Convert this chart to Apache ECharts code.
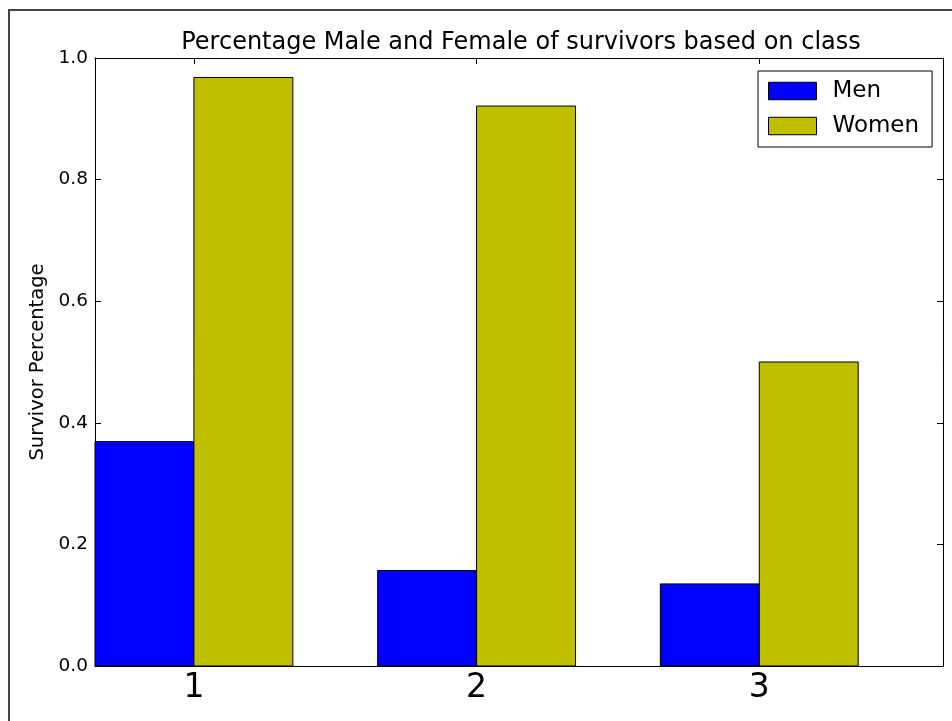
<!DOCTYPE html>
<html>
<head>
<meta charset="utf-8">
<script src="https://cdn.jsdelivr.net/npm/echarts@6/dist/echarts.min.js"></script>
<style>
html,body{margin:0;padding:0;background:#fff;}
#main{width:952px;height:721px;}
</style>
</head>
<body>
<div id="main"></div>
<script>
// ---- data ----
const categories = ['1', '2', '3'];
const menValues = [0.369, 0.157, 0.135];
const womenValues = [0.968, 0.921, 0.5];
const yTicks = [0, 0.2, 0.4, 0.6, 0.8, 1.0];
const seriesNames = ['Men', 'Women'];

// ---- layout constants ----
const BAR_W = 0.35;
const FONT = 'DejaVu Sans';
const tickPositions = categories.map((c, i) => i + BAR_W);

function barRenderer(offset) {
  return function (params, api) {
    const x0 = api.value(0) + offset;
    const v = api.value(1);
    const pTop = api.coord([x0, v]);
    const pBot = api.coord([x0 + BAR_W, 0]);
    return {
      type: 'rect',
      shape: { x: pTop[0], y: pTop[1], width: pBot[0] - pTop[0], height: pBot[1] - pTop[1] },
      style: { fill: api.visual('color'), stroke: '#000', lineWidth: 1 }
    };
  };
}

const chart = echarts.init(document.getElementById('main'), null, { renderer: 'canvas' });
const axisLineStyle = { color: '#000', width: 1 };
const option = {
  animation: false,
  backgroundColor: '#fff',
  textStyle: { fontFamily: FONT },
  title: {
    text: 'Percentage Male and Female of survivors based on class',
    left: 516, textAlign: 'center', top: 26,
    textStyle: { fontFamily: FONT, fontSize: 24, fontWeight: 'normal', color: '#000' }
  },
  legend: {
    data: seriesNames,
    orient: 'vertical', align: 'left',
    left: 758, top: 71,
    icon: 'rect', itemWidth: 48, itemHeight: 17.5, itemGap: 12,
    padding: [8.5, 13, 9.5, 10],
    borderColor: '#000', borderWidth: 1, backgroundColor: '#fff',
    itemStyle: { borderColor: '#000', borderWidth: 1 },
    textStyle: { fontFamily: FONT, fontSize: 23, color: '#000', lineHeight: 20, padding: [0, 0, 0, 11] }
  },
  graphic: [{
    type: 'rect', silent: true, z: -10,
    shape: { x: 9, y: 10, width: 1200, height: 1200 },
    style: { fill: 'none', stroke: '#444', lineWidth: 2 }
  }],
  grid: { left: 95, top: 58, right: 9, bottom: 55 },
  xAxis: [{
    type: 'value', min: 0, max: 3, position: 'bottom',
    axisLine: { show: true, onZero: false, lineStyle: axisLineStyle },
    splitLine: { show: false },
    axisTick: { show: true, inside: true, length: 6, customValues: tickPositions, lineStyle: axisLineStyle },
    axisLabel: {
      customValues: tickPositions, margin: 5.5,
      fontFamily: FONT, fontSize: 33, color: '#000',
      formatter: v => categories[Math.round(v - BAR_W)]
    }
  }, {
    type: 'value', min: 0, max: 3, position: 'top',
    axisLine: { show: true, onZero: false, lineStyle: axisLineStyle },
    splitLine: { show: false },
    axisTick: { show: true, inside: true, length: 6, customValues: tickPositions, lineStyle: axisLineStyle },
    axisLabel: { show: false }
  }],
  yAxis: [{
    type: 'value', min: 0, max: 1, interval: 0.2, position: 'left',
    name: 'Survivor Percentage', nameLocation: 'middle', nameGap: 46.5,
    nameTextStyle: { fontFamily: FONT, fontSize: 19.5, color: '#000' },
    axisLine: { show: true, onZero: false, lineStyle: axisLineStyle },
    splitLine: { show: false },
    axisTick: { show: true, inside: true, length: 6, customValues: yTicks, lineStyle: axisLineStyle },
    axisLabel: {
      customValues: yTicks, margin: 7,
      fontFamily: FONT, fontSize: 18.5, color: '#000',
      formatter: v => v.toFixed(1)
    }
  }, {
    type: 'value', min: 0, max: 1, interval: 0.2, position: 'right',
    axisLine: { show: true, onZero: false, lineStyle: axisLineStyle },
    splitLine: { show: false },
    axisTick: { show: true, inside: true, length: 6, customValues: yTicks, lineStyle: axisLineStyle },
    axisLabel: { show: false }
  }],
  series: [{
    name: seriesNames[0], type: 'custom',
    itemStyle: { color: '#0000ff', borderColor: '#000', borderWidth: 1 },
    encode: { x: 0, y: 1 },
    renderItem: barRenderer(0),
    data: menValues.map((v, i) => [i, v])
  }, {
    name: seriesNames[1], type: 'custom',
    itemStyle: { color: '#bfbf00', borderColor: '#000', borderWidth: 1 },
    encode: { x: 0, y: 1 },
    renderItem: barRenderer(BAR_W),
    data: womenValues.map((v, i) => [i, v])
  }]
};
chart.setOption(option);
</script>
</body>
</html>
